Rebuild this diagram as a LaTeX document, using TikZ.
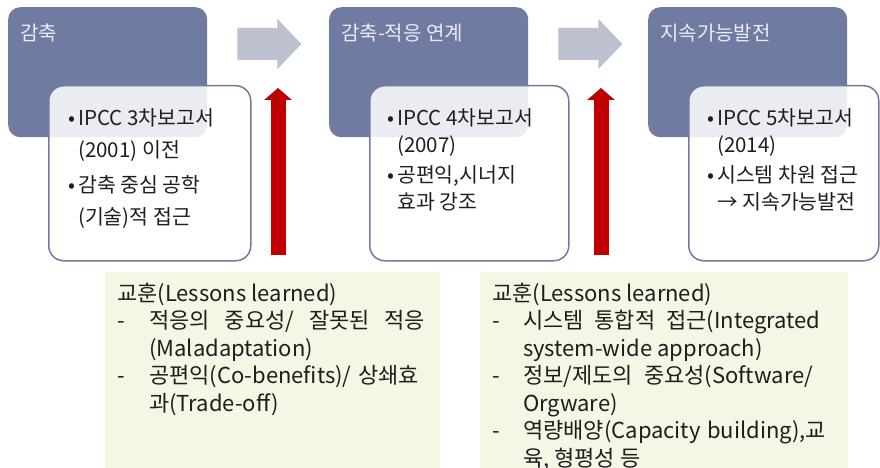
\documentclass[tikz,border=0pt]{standalone}
\usepackage{fontspec}
\setmainfont{Noto Sans CJK KR}
\usetikzlibrary{arrows.meta,calc,positioning}
\definecolor{stageblue}{RGB}{111,123,160}
\definecolor{titletext}{RGB}{234,236,243}
\definecolor{flowgrey}{RGB}{188,192,207}
\definecolor{lessonfill}{RGB}{245,246,227}
\definecolor{darkred}{RGB}{192,0,0}
\definecolor{bodytext}{RGB}{30,30,30}
% justified line of a lesson
\newcommand\justline[2]{\makebox[#1][s]{#2}}

\begin{document}
\begin{tikzpicture}[x=1pt,y=-1pt,
  stagebox/.style={fill=stageblue, rounded corners=12pt, minimum width=199pt, minimum height=130pt, inner sep=0pt, anchor=north west},
  detailbox/.style={draw=stageblue, line width=1.5pt, fill=white, fill opacity=0.86, rounded corners=15pt, minimum height=175pt, inner sep=0pt, anchor=north west},
  lessonbox/.style={fill=lessonfill, minimum height=230pt, inner sep=0pt, anchor=north west},
  stagetitle/.style={anchor=base west, inner sep=0pt, text=titletext, font=\fontsize{20}{24}\selectfont},
  bullettext/.style={anchor=north west, inner sep=0pt, text=bodytext, align=left},
  uparrow/.style={darkred, line width=15pt, -{Triangle[width=27pt,length=12pt]}}
]
\fill[white] (0,0) rectangle (880,468);
\clip (0,0) rectangle (880,468);

% stages
\node[stagebox] (stage1) at (8,7) {};
\node[stagebox] (stage2) at (329,7) {};
\node[stagebox] (stage3) at (648,7) {};
\node[stagetitle] (title1) at ($(stage1.north west)+(12,33.5)$) {감축};
\node[stagetitle] (title2) at ($(stage2.north west)+(12,33.5)$) {감축-적응 연계};
\node[stagetitle] (title3) at ($(stage3.north west)+(12,33.5)$) {지속가능발전};

% report boxes
\node[detailbox, minimum width=202pt] (det1) at ($(stage1.north west)+(40,78)$) {};
\node[detailbox, minimum width=199pt] (det2) at ($(stage2.north west)+(40,78)$) {};
\node[detailbox, minimum width=190pt] (det3) at ($(stage3.north west)+(40,78)$) {};

\node[bullettext] (txt1) at ($(det1.north west)+(20,18)$) {\fontsize{20.5}{32}\selectfont
  \begin{tabular}{@{}p{10pt}@{}l@{}}
  •&IPCC 3차보고서\\
  &(2001) 이전\\[3pt]
  •&감축 중심 공학\\
  &(기술)적 접근
  \end{tabular}};
\node[bullettext] (txt2) at ($(det2.north west)+(18,22)$) {\fontsize{20.5}{26.5}\selectfont
  \begin{tabular}{@{}p{10pt}@{}l@{}}
  •&IPCC 4차보고서\\
  &(2007)\\[4pt]
  •&공편익,시너지\\
  &효과 강조
  \end{tabular}};
\node[bullettext] (txt3) at ($(det3.north west)+(19,22)$) {\fontsize{20.5}{26.5}\selectfont
  \begin{tabular}{@{}p{10pt}@{}l@{}}
  •&IPCC 5차보고서\\
  &(2014)\\[4pt]
  •&시스템 차원 접근\\
  &→ 지속가능발전
  \end{tabular}};

% flow arrows
\foreach \s in {stage1,stage2}
  \fill[flowgrey] ($(\s.north east)+(30,37)$) ++(0,-16) -- ++(40,0) -- ++(0,-9)
    -- ++(24,25) -- ++(-24,25) -- ++(0,-9) -- ++(-40,0) -- cycle;

% lessons
\node[lessonbox, minimum width=335pt] (lessonA) at (105,272) {};
\node[lessonbox, minimum width=368pt] (lessonB) at (480,272) {};

\node[bullettext] (lessAtxt) at ($(lessonA.north west)+(12,10)$) {\fontsize{22}{27.5}\selectfont
  \begin{tabular}{@{}p{32pt}@{}l@{}}
  \multicolumn{2}{@{}l@{}}{교훈(Lessons learned)}\\
  -&\justline{276pt}{적응의 중요성/ 잘못된 적응}\\
  &(Maladaptation)\\
  -&\justline{270pt}{공편익(Co-benefits)/ 상쇄효}\\
  &과(Trade-off)
  \end{tabular}};
\node[bullettext] (lessBtxt) at ($(lessonB.north west)+(12,10)$) {\fontsize{22}{27.5}\selectfont
  \begin{tabular}{@{}p{31pt}@{}l@{}}
  \multicolumn{2}{@{}l@{}}{교훈(Lessons learned)}\\
  -&\justline{297pt}{시스템 통합적 접근(Integrated}\\
  &system-wide approach)\\
  -&\justline{290pt}{정보/제도의 중요성(Software/}\\
  &Orgware)\\
  -&\justline{303pt}{역량배양(Capacity building),교}\\
  &육, 형평성 등
  \end{tabular}};

\coordinate (tipA) at (278,88);
\coordinate (tipB) at (601,88);
\draw[uparrow] ($(lessonA.north -| tipA)+(0,-17)$) -- (tipA);
\draw[uparrow] ($(lessonB.north -| tipB)+(0,-17)$) -- (tipB);

\end{tikzpicture}
\end{document}
